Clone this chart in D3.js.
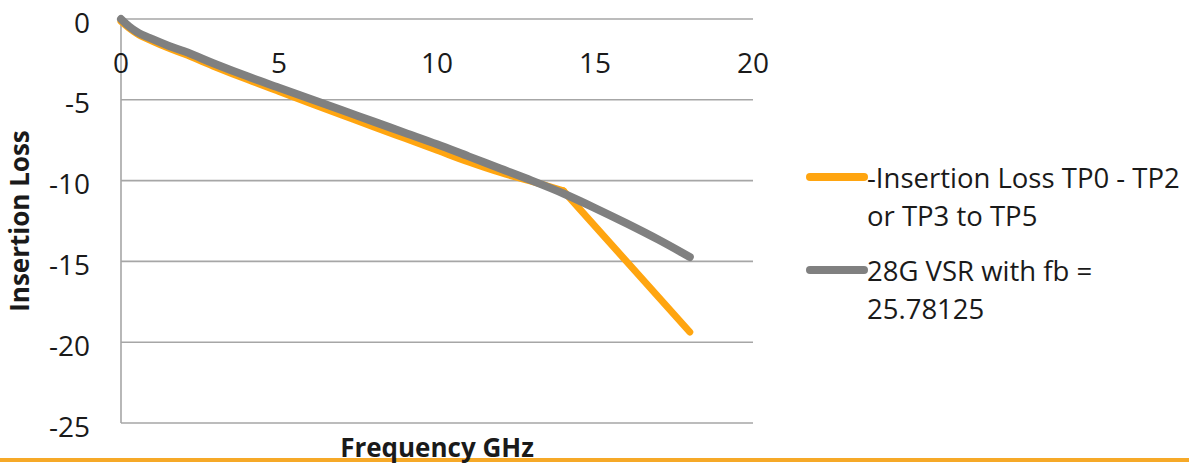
<!DOCTYPE html>
<html>
<head>
<meta charset="utf-8">
<script src="https://cdn.jsdelivr.net/npm/d3@7"></script>
<style>
  html, body { margin: 0; padding: 0; background: #fff; }
  svg { display: block; }
  text { font-family: "Open Sans", "Noto Sans", sans-serif; fill: #1a1a1a; }
</style>
</head>
<body>
<svg id="chart" width="1189" height="464"></svg>
<script>
// ---- data ----
const freqGray = [0, 0.25, 0.5, 1, 1.5, 2, 3, 4, 5, 6, 7, 8, 9, 10, 11, 12, 13, 14, 15, 16, 17, 18];
const lossGray = [0, -0.45, -0.8, -1.25, -1.65, -2.0, -2.8, -3.55, -4.25, -4.95, -5.65, -6.35, -7.05, -7.75, -8.5, -9.25, -10.0, -10.8, -11.7, -12.65, -13.65, -14.73];

const freqOrange = [0, 0.25, 0.5, 1, 1.5, 2, 3, 4, 5, 6, 7, 8, 9, 10, 11, 12, 13, 14, 18];
const lossOrange = [-0.15, -0.55, -0.9, -1.38, -1.8, -2.17, -2.98, -3.75, -4.48, -5.22, -5.95, -6.68, -7.4, -8.12, -8.85, -9.5, -10.05, -10.64, -19.37];

const xTicks = [0, 5, 10, 15, 20];
const yTicks = [0, -5, -10, -15, -20, -25];
const seriesNames = ["-Insertion Loss TP0 - TP2", "or TP3 to TP5"];
const seriesNames2 = ["28G VSR with fb =", "25.78125"];
const xTitle = "Frequency GHz";
const yTitle = "Insertion Loss";

// ---- layout ----
const svg = d3.select("#chart");
const x = d3.scaleLinear().domain([0, 20]).range([121, 753]);
const y = d3.scaleLinear().domain([0, -25]).range([19, 423]);

const gridColor = "#a6a6a6";
const orange = "#ffa510";
const gray = "#808080";

// horizontal gridlines
svg.append("g").selectAll("line").data(yTicks).join("line")
  .attr("x1", x(0)).attr("x2", x(20))
  .attr("y1", d => y(d)).attr("y2", d => y(d))
  .attr("stroke", gridColor).attr("stroke-width", 1.6);

// vertical axis line
svg.append("line")
  .attr("x1", x(0)).attr("x2", x(0))
  .attr("y1", y(0)).attr("y2", y(-25))
  .attr("stroke", gridColor).attr("stroke-width", 1.6);

// y tick labels
svg.append("g").selectAll("text").data(yTicks).join("text")
  .attr("x", 90).attr("y", d => y(d) + 2.5)
  .attr("text-anchor", "end").attr("dominant-baseline", "central")
  .attr("font-size", 28)
  .text(d => d === 0 ? "0" : "-" + Math.abs(d));

// x tick labels
svg.append("g").selectAll("text").data(xTicks).join("text")
  .attr("x", d => x(d)).attr("y", 62)
  .attr("text-anchor", "middle").attr("dominant-baseline", "central")
  .attr("font-size", 28)
  .text(d => d);

// lines
const line = d3.line().curve(d3.curveMonotoneX);
const orangePts = freqOrange.map((f, i) => [x(f), y(lossOrange[i])]);
const grayPts = freqGray.map((f, i) => [x(f), y(lossGray[i])]);

svg.append("path")
  .attr("d", d3.line().curve(d3.curveLinear)(orangePts.slice(-2)))
  .attr("fill", "none").attr("stroke", orange).attr("stroke-width", 7)
  .attr("stroke-linecap", "round").attr("stroke-linejoin", "round");
svg.append("path")
  .attr("d", line(orangePts.slice(0, -1)))
  .attr("fill", "none").attr("stroke", orange).attr("stroke-width", 7)
  .attr("stroke-linecap", "round").attr("stroke-linejoin", "round");
svg.append("path")
  .attr("d", line(grayPts))
  .attr("fill", "none").attr("stroke", gray).attr("stroke-width", 8)
  .attr("stroke-linecap", "round").attr("stroke-linejoin", "round");

// legend
const legend = svg.append("g");
legend.append("line").attr("x1", 810).attr("x2", 864).attr("y1", 177).attr("y2", 177)
  .attr("stroke", orange).attr("stroke-width", 8).attr("stroke-linecap", "round");
legend.append("line").attr("x1", 810).attr("x2", 864).attr("y1", 270).attr("y2", 270)
  .attr("stroke", gray).attr("stroke-width", 8).attr("stroke-linecap", "round");
legend.append("g").selectAll("text").data(seriesNames).join("text")
  .attr("x", 867).attr("y", (d, i) => 188 + i * 38)
  .attr("font-size", 27.5).text(d => d);
legend.append("g").selectAll("text").data(seriesNames2).join("text")
  .attr("x", 867).attr("y", (d, i) => 281 + i * 38)
  .attr("font-size", 27.5).text(d => d);

// bottom orange rule
svg.append("line").attr("x1", 0).attr("x2", 1189).attr("y1", 460).attr("y2", 460)
  .attr("stroke", "#f6a928").attr("stroke-width", 4);

// axis titles
svg.append("text")
  .attr("x", 437).attr("y", 457)
  .attr("text-anchor", "middle").attr("font-size", 26).attr("font-weight", "bold")
  .text(xTitle);
svg.append("text")
  .attr("transform", "translate(29,221) rotate(-90)")
  .attr("text-anchor", "middle").attr("font-size", 26).attr("font-weight", "bold")
  .text(yTitle);
</script>
</body>
</html>
